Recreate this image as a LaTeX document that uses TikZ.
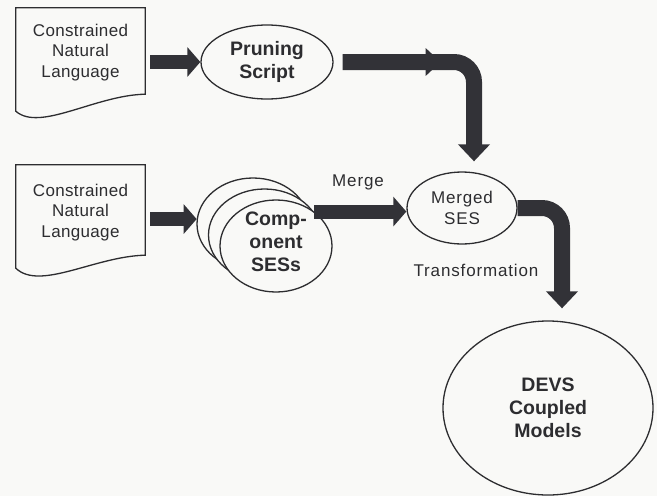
\documentclass[tikz,border=0pt]{standalone}
\usepackage{fontspec}
\setmainfont{Liberation Sans}
\newfontfamily\labfont[LetterSpace=5]{Liberation Sans}
\newfontfamily\docfont[LetterSpace=2]{Liberation Sans}
\usetikzlibrary{arrows.meta,shapes.geometric,calc}
\definecolor{bg}{RGB}{249,249,247}
\definecolor{ink}{RGB}{45,45,48}
\definecolor{arr}{RGB}{50,50,55}
\begin{document}
\begin{tikzpicture}[x=1pt,y=-1pt,
  outline/.style={draw=ink, line width=1.3pt},
  ell/.style={outline, ellipse, fill=bg, inner sep=0pt},
  fat/.style={draw=arr, line width=14pt, -{Triangle[length=13pt,width=29pt]}},
  fatter/.style={draw=arr, line width=16pt, rounded corners=20pt, -{Triangle[length=17pt,width=31pt]}},
  boldtxt/.style={font=\bfseries\fontsize{19.5}{23}\selectfont, text=ink, align=center},
  doctext/.style={font=\docfont\fontsize{17}{20.5}\selectfont, text=ink, align=center},
  lab/.style={font=\labfont\fontsize{17}{21}\selectfont, text=ink, align=center},
  docbox/.style={minimum width=129pt, minimum height=103pt, inner sep=0pt}
]
\fill[bg] (0,0) rectangle (657,496);
\useasboundingbox (0,0) rectangle (657,496);

% documents
\node[docbox] (doc1) at (80.5,59.5) {};
\node[docbox] (doc2) at (80.5,216.5) {};
\draw[outline] (doc1.north west) -- (doc1.north east) -- ([yshift=17pt]doc1.south east)
  .. controls +(-50,1) and +(24,21) .. (doc1.south west) -- cycle;
\draw[outline] (doc2.north west) -- (doc2.north east) -- ([yshift=13pt]doc2.south east)
  .. controls +(-50,1) and +(24,23) .. (doc2.south west) -- cycle;
\node[doctext] (doc1t) at ([yshift=7pt]doc1.center) {Constrained\\Natural\\Language};
\node[doctext] (doc2t) at ([yshift=4pt]doc2.center) {Constrained\\Natural\\Language};

% ellipses
\node[ell, minimum width=132pt, minimum height=74pt, boldtxt] (prune) at (267,62) {Pruning\\Script};
\node[ell, minimum width=112pt, minimum height=92pt] (comp1) at (253,224) {};
\node[ell, minimum width=112pt, minimum height=92pt] (comp2) at (264.5,235) {};
\node[ell, minimum width=112pt, minimum height=92pt] (comp3) at (276,246) {};
\node[boldtxt] (compt) at ([yshift=4pt]comp3.center) {Comp-\\onent\\SESs};
\node[ell, minimum width=110pt, minimum height=72pt, font=\labfont\fontsize{17}{21}\selectfont, text=ink, align=center] (merged) at (462,208) {Merged\\SES};
\node[ell, minimum width=210pt, minimum height=174pt, boldtxt] (devs) at (548,408) {DEVS\\Coupled\\Models};

% connectors
\draw[fat] ([xshift=5pt]doc1.east |- prune.west) -- (prune.west);
\draw[fat] ([xshift=5pt]doc2.east |- comp1.175) -- (comp1.175);
\draw[fat] (comp3.42) -- (comp3.42 -| merged.west);
\draw[fat, -{Triangle[length=15pt,width=27pt]}] ([xshift=9pt]prune.east) -- ([xshift=107pt]prune.east);
\draw[fatter] ([xshift=9pt]prune.east) -| ([xshift=12pt,yshift=10pt]merged.north);
\draw[fatter] (merged.east) -| ([xshift=14pt,yshift=12pt]devs.north);

% labels
\node[lab] (mergelab) at (358,182) {Merge};
\node[lab] (translab) at (476,270) {Transformation};
\end{tikzpicture}
\end{document}
